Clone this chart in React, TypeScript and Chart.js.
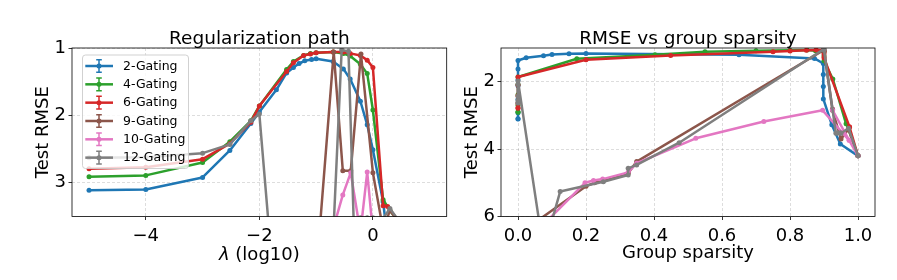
import React, { useEffect, useRef } from "react";
import { Chart, registerables } from "chart.js";

Chart.register(...registerables);

const FONT = '"DejaVu Sans", "Liberation Sans", sans-serif';

const seriesNames = ["2-Gating", "4-Gating", "6-Gating", "9-Gating", "10-Gating", "12-Gating"];
const seriesColors = ["#1f77b4", "#2ca02c", "#d62728", "#8c564b", "#e377c2", "#7f7f7f"];

// 2-Gating
const gate2LogLambda = [-5, -4, -3, -2.52, -2.15, -2, -1.7, -1.52, -1.4, -1.3, -1.2, -1.08, -1.0, -0.7, -0.52, -0.4, -0.22, -0.1, 0, 0.18, 0.26, 1];
const gate2Sparsity = [0, 0, 0, 0, 0, 0, 0, 0, 0.024, 0.075, 0.1, 0.15, 0.2, 0.65, 0.872, 0.898, 0.898, 0.898, 0.898, 0.923, 0.948, 1];
const gate2Rmse = [3.11, 3.1, 2.92, 2.52, 2.12, 1.95, 1.62, 1.37, 1.29, 1.23, 1.19, 1.17, 1.16, 1.2, 1.31, 1.46, 1.79, 2.14, 2.51, 3.28, 3.85, 4.2];

// 4-Gating
const gate4LogLambda = [-5, -4, -3, -2.52, -2.15, -2, -1.52, -1.4, -1.22, -1.1, -1.0, -0.7, -0.52, -0.4, -0.22, -0.1, 0, 0.18, 0.3, 1];
const gate4Sparsity = [0, 0, 0, 0, 0, 0, 0.173, 0.403, 0.55, 0.7, 0.8, 0.85, 0.875, 0.9, 0.9, 0.9, 0.926, 0.965, 0.972, 1];
const gate4Rmse = [2.91, 2.89, 2.7, 2.39, 2.08, 1.86, 1.32, 1.2, 1.11, 1.08, 1.07, 1.06, 1.08, 1.12, 1.24, 1.38, 1.92, 3.25, 3.41, 4.2];

// 6-Gating
const gate6LogLambda = [-5, -4, -3, -2.52, -2.15, -2, -1.52, -1.4, -1.22, -1.1, -1.0, -0.7, -0.52, -0.4, -0.22, -0.1, 0, 0.18, 0.26, 1];
const gate6Sparsity = [0, 0, 0, 0, 0, 0, 0.2, 0.449, 0.75, 0.8, 0.848, 0.877, 0.898, 0.9, 0.9, 0.9, 0.9, 0.975, 0.975, 1];
const gate6Rmse = [2.79, 2.77, 2.65, 2.42, 2.1, 1.86, 1.35, 1.22, 1.11, 1.09, 1.07, 1.06, 1.06, 1.08, 1.11, 1.18, 1.29, 3.34, 3.35, 4.2];

// 9-Gating
const gate9LogLambda = [-5, -4, -3, -2.52, -2.15, -2, -1.7, -1.52, -1.4, -1.22, -1.0, -0.69, -0.53, -0.39, -0.21, 0, 0.18, 0.3, 1];
const gate9Sparsity = [0, 0, 0, 0, 0, 0, 0.2, 0.225, 0.25, 0.325, 0.349, 0.9, 0.925, 0.925, 0.9, 0.925, 0.95, 0.972, 1];
const gate9Rmse = [8.5, 8.4, 8.0, 7.5, 7.0, 6.54, 5.1, 5.0, 4.95, 4.7, 4.37, 1.06, 2.82, 2.82, 1.09, 2.85, 3.7, 3.41, 4.2];

// 10-Gating
const gate10LogLambda = [-5, -4, -3, -2.52, -2.15, -2, -1.7, -1.52, -1.4, -1.22, -1.1, -1.0, -0.7, -0.53, -0.39, -0.22, -0.1, 0, 1];
const gate10Sparsity = [0, 0, 0, 0, 0, 0, 0, 0.197, 0.222, 0.249, 0.324, 0.349, 0.523, 0.723, 0.896, 0.974, 0.925, 0.974, 1];
const gate10Rmse = [9.5, 9.4, 9.0, 8.5, 8.0, 7.5, 7.0, 5.0, 4.93, 4.89, 4.69, 4.42, 3.68, 3.18, 2.85, 3.74, 2.84, 3.74, 4.2];

// 12-Gating
const gate12LogLambda = [-5, -4, -3, -2.52, -2.15, -2, -1.5, -1.4, -1.22, -1.1, -1.0, -0.85, -0.7, -0.55, -0.43, -0.34, -0.22, -0.1, 0, 0.18, 0.3, 1];
const gate12Sparsity = [0, 0, 0, 0, 0, 0, 0.075, 0.124, 0.251, 0.324, 0.324, 0.349, 0.474, 0.9, 0.9, 0.935, 0.94, 0.948, 0.948, 0.95, 0.972, 1];
const gate12Rmse = [2.63, 2.62, 2.56, 2.43, 2.08, 1.98, 7.0, 5.26, 4.97, 4.77, 4.57, 4.47, 3.81, 1.03, 1.05, 3.53, 3.52, 3.52, 3.52, 3.53, 3.38, 4.2];

const logLambdaSets = [gate2LogLambda, gate4LogLambda, gate6LogLambda, gate9LogLambda, gate10LogLambda, gate12LogLambda];
const sparsitySets = [gate2Sparsity, gate4Sparsity, gate6Sparsity, gate9Sparsity, gate10Sparsity, gate12Sparsity];
const rmseSets = [gate2Rmse, gate4Rmse, gate6Rmse, gate9Rmse, gate10Rmse, gate12Rmse];

const leftXRange = [-5.3, 1.3];
const leftYRange = [1, 3.5];
const leftXTicks = [-4, -2, 0];
const leftYTicks = [1, 2, 3];
const rightXRange = [-0.05, 1.05];
const rightYRange = [1, 6];
const rightXTicks = [0, 0.2, 0.4, 0.6, 0.8, 1.0];
const rightYTicks = [2, 4, 6];

const leftTitle = "Regularization path";
const rightTitle = "RMSE vs group sparsity";
const yLabel = "Test RMSE";
const rightXLabel = "Group sparsity";

function buildDatasets(xSets: number[][]) {
  return seriesNames.map((name, i) => ({
    label: name,
    data: xSets[i].map((x, j) => ({ x, y: rmseSets[i][j] })),
    borderColor: seriesColors[i],
    backgroundColor: seriesColors[i],
    pointBackgroundColor: seriesColors[i],
    borderWidth: 2.5,
    pointRadius: 2.5,
    pointBorderWidth: 0,
    pointHoverRadius: 0,
    tension: 0,
    borderJoinStyle: "round",
    clip: 0,
    order: seriesNames.length - 1 - i,
  }));
}

const gridOpts = {
  color: "rgba(0,0,0,0.17)",
  lineWidth: 0.8,
  tickLength: 3.5,
  tickColor: "#000",
  tickWidth: 0.8,
  tickBorderDash: [],
};

function makeConfig(p: any) {
  const decor = {
    id: "decor",
    afterDraw(chart: any) {
      const ctx = chart.ctx;
      const a = chart.chartArea;
      ctx.save();
      // frame (spines)
      ctx.strokeStyle = "#000";
      ctx.lineWidth = 0.8;
      ctx.strokeRect(a.left, a.top, a.right - a.left, a.bottom - a.top);
      // title
      ctx.fillStyle = "#000";
      ctx.font = `18.5px ${FONT}`;
      ctx.textAlign = "center";
      ctx.textBaseline = "alphabetic";
      ctx.fillText(p.title, (a.left + a.right) / 2, 43.5);
      if (p.lambdaLabel) {
        const italic = `italic 18px ${FONT}`;
        const normal = `18px ${FONT}`;
        ctx.font = italic;
        const w1 = ctx.measureText("λ").width;
        ctx.font = normal;
        const rest = " (log10)";
        const w2 = ctx.measureText(rest).width;
        const x0 = (a.left + a.right) / 2 - (w1 + w2) / 2;
        ctx.textAlign = "left";
        ctx.font = italic;
        ctx.fillText("λ", x0, 259.5);
        ctx.font = normal;
        ctx.fillText(rest, x0 + w1, 259.5);
      }
      if (p.legend) {
        const lx0 = 82.5, ly0 = 55, lx1 = 188.5, ly1 = 168.5, r = 3;
        ctx.beginPath();
        ctx.moveTo(lx0 + r, ly0);
        ctx.lineTo(lx1 - r, ly0);
        ctx.quadraticCurveTo(lx1, ly0, lx1, ly0 + r);
        ctx.lineTo(lx1, ly1 - r);
        ctx.quadraticCurveTo(lx1, ly1, lx1 - r, ly1);
        ctx.lineTo(lx0 + r, ly1);
        ctx.quadraticCurveTo(lx0, ly1, lx0, ly1 - r);
        ctx.lineTo(lx0, ly0 + r);
        ctx.quadraticCurveTo(lx0, ly0, lx0 + r, ly0);
        ctx.closePath();
        ctx.fillStyle = "rgba(255,255,255,0.8)";
        ctx.fill();
        ctx.strokeStyle = "rgba(204,204,204,0.9)";
        ctx.lineWidth = 1;
        ctx.stroke();
        seriesNames.forEach((name, i) => {
          const y = 66 + i * 18.33;
          const c = seriesColors[i];
          ctx.strokeStyle = c;
          ctx.lineWidth = 2.5;
          ctx.beginPath();
          ctx.moveTo(85.3, y);
          ctx.lineTo(113, y);
          ctx.stroke();
          ctx.lineWidth = 1.5;
          ctx.beginPath();
          ctx.moveTo(99, y - 6.3);
          ctx.lineTo(99, y + 6.3);
          ctx.moveTo(96.2, y - 6.3);
          ctx.lineTo(101.8, y - 6.3);
          ctx.moveTo(96.2, y + 6.3);
          ctx.lineTo(101.8, y + 6.3);
          ctx.stroke();
          ctx.fillStyle = c;
          ctx.beginPath();
          ctx.arc(99, y, 2.5, 0, Math.PI * 2);
          ctx.fill();
          ctx.fillStyle = "#000";
          ctx.font = `12.5px ${FONT}`;
          ctx.textAlign = "left";
          ctx.textBaseline = "middle";
          ctx.fillText(name, 123, y + 0.5);
        });
      }
      ctx.restore();
    },
  };

  return {
    type: "line" as const,
    data: { datasets: buildDatasets(p.xSets) as any },
    options: {
      animation: false,
      responsive: false,
      maintainAspectRatio: false,
      devicePixelRatio: 1,
      events: [],
      layout: { padding: { top: 48, left: 0, right: p.padRight, bottom: 0 } },
      plugins: { legend: { display: false }, tooltip: { enabled: false }, title: { display: false } },
      scales: {
        x: {
          type: "linear",
          position: "bottom",
          min: p.xRange[0],
          max: p.xRange[1],
          afterBuildTicks: (s: any) => {
            s.ticks = p.xTicks.map((v: number) => ({ value: v }));
          },
          afterFit: (s: any) => {
            s.height = 63.5;
          },
          ticks: {
            autoSkip: false,
            maxRotation: 0,
            minRotation: 0,
            padding: 6,
            color: "#000",
            font: { family: FONT, size: 18 },
            callback: p.xFmt,
          },
          grid: gridOpts,
          border: { display: false, dash: [3, 2] },
          title: p.xLabel
            ? {
                display: true,
                text: p.xLabel,
                color: "#000",
                font: { family: FONT, size: 18 },
                padding: { top: 0, bottom: 15.9 },
              }
            : { display: false },
        },
        y: {
          type: "linear",
          position: "left",
          reverse: true,
          min: p.yRange[0],
          max: p.yRange[1],
          afterBuildTicks: (s: any) => {
            s.ticks = p.yTicks.map((v: number) => ({ value: v }));
          },
          afterFit: (s: any) => {
            s.width = p.yWidth;
          },
          ticks: {
            autoSkip: false,
            padding: 2.5,
            color: "#000",
            font: { family: FONT, size: 18 },
            callback: (v: number) => String(v),
          },
          grid: gridOpts,
          border: { display: false, dash: [3, 2] },
          title: {
            display: true,
            text: yLabel,
            color: "#000",
            font: { family: FONT, size: 18 },
            padding: { top: p.yTitlePad, bottom: 0 },
          },
        },
      },
    },
    plugins: [decor],
  };
}

export default function App() {
  const leftRef = useRef<HTMLCanvasElement>(null);
  const rightRef = useRef<HTMLCanvasElement>(null);

  useEffect(() => {
    const left = new Chart(
      leftRef.current as HTMLCanvasElement,
      makeConfig({
        xSets: logLambdaSets,
        xRange: leftXRange,
        yRange: leftYRange,
        xTicks: leftXTicks,
        yTicks: leftYTicks,
        xFmt: (v: number) => (v < 0 ? "\u2212" + Math.abs(v) : String(v)),
        xLabel: null,
        lambdaLabel: true,
        legend: true,
        title: leftTitle,
        yWidth: 72,
        yTitlePad: 33,
        padRight: 3.3,
      }) as any
    );
    const right = new Chart(
      rightRef.current as HTMLCanvasElement,
      makeConfig({
        xSets: sparsitySets,
        xRange: rightXRange,
        yRange: rightYRange,
        xTicks: rightXTicks,
        yTicks: rightYTicks,
        xFmt: (v: number) => v.toFixed(1),
        xLabel: rightXLabel,
        lambdaLabel: false,
        legend: false,
        title: rightTitle,
        yWidth: 51,
        yTitlePad: 11.3,
        padRight: 22,
      }) as any
    );
    return () => {
      left.destroy();
      right.destroy();
    };
  }, []);

  return (
    <div style={{ position: "absolute", left: 0, top: 0, width: 897, height: 280, background: "#fff" }}>
      <canvas
        ref={leftRef}
        width={450}
        height={280}
        style={{ position: "absolute", left: 0, top: 0, width: 450, height: 280 }}
      />
      <canvas
        ref={rightRef}
        width={447}
        height={280}
        style={{ position: "absolute", left: 450, top: 0, width: 447, height: 280 }}
      />
    </div>
  );
}
